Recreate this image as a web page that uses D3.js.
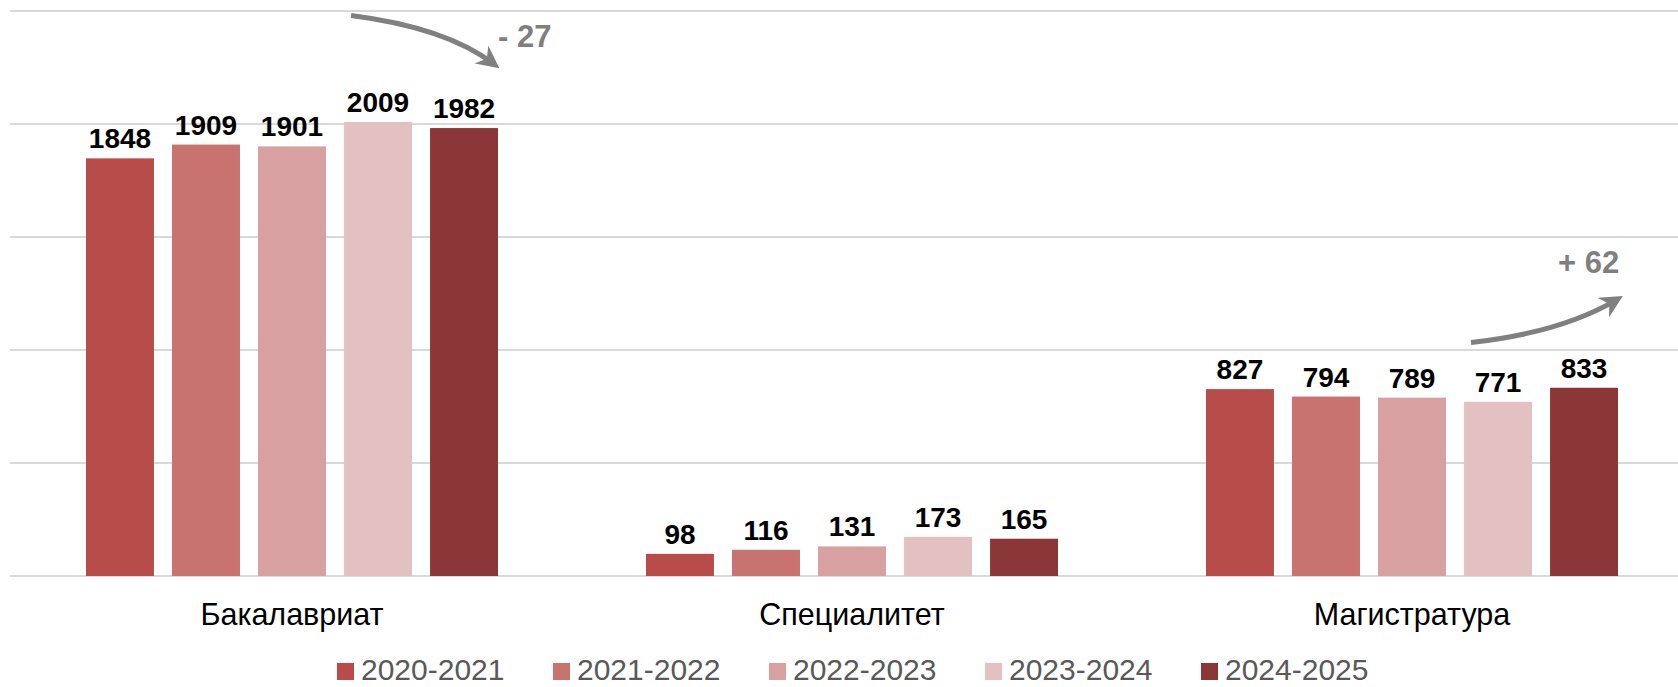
<!DOCTYPE html>
<html>
<head>
    <meta charset="UTF-8">
    <title>Контингент</title>
    <style>
        body { margin: 0; background: #fff; }
        svg { display: block; font-family: "Liberation Sans", Arial, sans-serif; }
    </style>
</head>
<body>
    <script src="https://d3js.org/d3.v7.min.js"></script>
    <script>
        // категории и ряды
        var categories = ["Бакалавриат", "Специалитет", "Магистратура"]
        var years = ["2020-2021", "2021-2022", "2022-2023", "2023-2024", "2024-2025"]
        var v2020 = [1848, 98, 827]
        var v2021 = [1909, 116, 794]
        var v2022 = [1901, 131, 789]
        var v2023 = [2009, 173, 771]
        var v2024 = [1982, 165, 833]
        var yTicks = [0, 500, 1000, 1500, 2000, 2500]
        var notes = ["- 27", "", "+ 62"]

        var colors = ["#b84c4a", "#c87370", "#d8a1a1", "#e3c1c3", "#8b3737"]
        var seriesValues = [v2020, v2021, v2022, v2023, v2024]

        var width = 1678
        var height = 687

        var svg = d3.select("body").append("svg")
            .attr("width", width)
            .attr("height", height)

        var x0 = d3.scaleBand().domain(categories).range([12, 1692])
        var x1 = d3.scaleBand().domain(years).range([74, 486]).paddingInner(0.21)
        var y = d3.scaleLinear().domain([0, 2500]).range([576, 11])
        var color = d3.scaleOrdinal().domain(years).range(colors)

        // сетка
        svg.append("g")
            .selectAll("line")
            .data(yTicks)
            .enter().append("line")
            .attr("x1", 10)
            .attr("x2", width)
            .attr("y1", function(d){ return y(d) })
            .attr("y2", function(d){ return y(d) })
            .attr("stroke", "#d9d9d9")
            .attr("stroke-width", 2)

        // таблица для столбцов
        var table = []
        categories.forEach(function(c, ci){
            years.forEach(function(yr, si){
                table.push({ cat: c, year: yr, value: seriesValues[si][ci] })
            })
        })

        var bars = svg.append("g")
        bars.selectAll("rect")
            .data(table)
            .enter().append("rect")
            .attr("x", function(d){ return x0(d.cat) + x1(d.year) })
            .attr("y", function(d){ return y(d.value) })
            .attr("width", x1.bandwidth())
            .attr("height", function(d){ return y(0) - y(d.value) })
            .attr("fill", function(d){ return color(d.year) })

        bars.selectAll("text")
            .data(table)
            .enter().append("text")
            .attr("x", function(d){ return x0(d.cat) + x1(d.year) + x1.bandwidth() / 2 })
            .attr("y", function(d){ return y(d.value) - 10 })
            .attr("text-anchor", "middle")
            .attr("font-size", "28px")
            .attr("font-weight", "bold")
            .attr("fill", "#000")
            .text(function(d){ return d.value })

        // подписи категорий
        svg.append("g")
            .selectAll("text")
            .data(categories)
            .enter().append("text")
            .attr("x", function(d){ return x0(d) + x0.bandwidth() / 2 })
            .attr("y", 625)
            .attr("text-anchor", "middle")
            .attr("font-size", "30.5px")
            .attr("fill", "#000")
            .text(function(d){ return d })

        // стрелки с изменением
        svg.append("defs").append("marker")
            .attr("id", "head")
            .attr("viewBox", "0 0 10 10")
            .attr("refX", 7)
            .attr("refY", 5)
            .attr("markerWidth", 4.5)
            .attr("markerHeight", 4.5)
            .attr("orient", "auto")
            .append("path")
            .attr("d", "M0,0 L10,5 L0,10 L3,5 Z")
            .attr("fill", "#808080")

        var notesG = svg.append("g")
        categories.forEach(function(c, i){
            if (!notes[i]) return
            var last = seriesValues[4][i]
            var prev = seriesValues[3][i]
            var sx = x0(c) + x1(years[3]) + 7
            var ex = x0(c) + x1(years[4]) + x1.bandwidth() - 4
            var sy, ey, cx, cy, tx, ty
            if (last < prev) {
                sy = y(2480); ey = y(2265)
                cx = sx + 95; cy = sy + 12
                tx = ex + 4; ty = 47
            } else {
                sy = y(last + 200); ey = sy - 43
                ex = ex + 3
                cx = sx + 90; cy = sy - 10
                tx = ex - 59; ty = 273
            }
            notesG.append("path")
                .attr("d", "M" + sx + "," + sy + " Q" + cx + "," + cy + " " + ex + "," + ey)
                .attr("fill", "none")
                .attr("stroke", "#808080")
                .attr("stroke-width", 5)
                .attr("marker-end", "url(#head)")
            notesG.append("text")
                .attr("x", tx)
                .attr("y", ty)
                .attr("font-size", "31px")
                .attr("font-weight", "bold")
                .attr("fill", "#7f7f7f")
                .text(notes[i])
        })

        // легенда (чуть выше края, чтобы не обрезалась)
        var legend = svg.append("g")
            .selectAll("g")
            .data(years)
            .enter().append("g")
            .attr("transform", function(d, i){ return "translate(" + (337 + i * 216) + ",0)" })
        legend.append("rect")
            .attr("x", 0)
            .attr("y", 663)
            .attr("width", 17)
            .attr("height", 17)
            .attr("fill", function(d){ return color(d) })
        legend.append("text")
            .attr("x", 24)
            .attr("y", 680)
            .attr("font-size", "30px")
            .attr("fill", "#595959")
            .text(function(d){ return d })
    </script>
</body>
</html>
